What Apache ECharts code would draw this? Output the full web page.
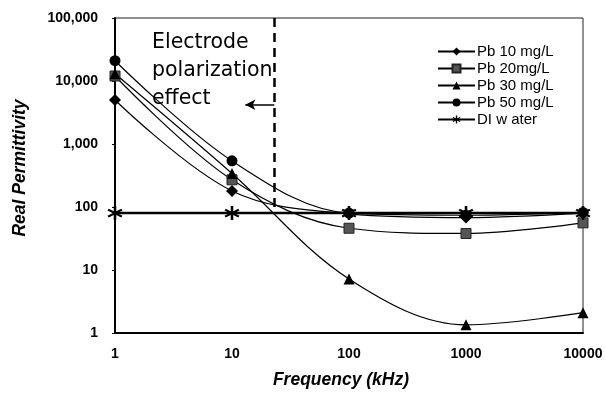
<!DOCTYPE html>
<html><head><meta charset="utf-8">
<script src="https://cdn.jsdelivr.net/npm/echarts@6/dist/echarts.min.js"></script>
<style>html,body{margin:0;padding:0;background:#fff;}#c{width:606px;height:401px;}</style>
</head><body><div id="c"></div>
<script>
const freqs = [1, 10, 100, 1000, 10000];
const pb10 = [5000, 180, 78, 68, 80];
const pb20 = [12000, 270, 46, 38, 56];
const pb30 = [13000, 340, 7.2, 1.35, 2.1];
const pb50 = [21000, 540, 80, 74, 82];
const diWater = [80, 80, 80, 80, 80];
const seriesNames = ['Pb 10 mg/L', 'Pb 20mg/L', 'Pb 30 mg/L', 'Pb 50 mg/L', 'DI w ater'];
const xTicks = ['1', '10', '100', '1000', '10000'];
const boundaryFreq = 23;
const arrowEndFreq = 13;
const arrowLevel = 4200;

const asterisk = 'path://M-1.6,-10 L1.6,-10 L1.6,10 L-1.6,10 Z M7.86,6.39 L-9.46,-3.61 L-7.86,-6.39 L9.46,3.61 Z M-9.46,3.61 L7.86,-6.39 L9.46,-3.61 L-7.86,6.39 Z';

function pts(arr){ return freqs.map((f,i)=>[f, arr[i]]); }

const chart = echarts.init(document.getElementById('c'), null, {renderer:'canvas'});
const base = {type:'line', smooth:0.35, lineStyle:{color:'#000', width:1.2}, itemStyle:{color:'#000'}, symbolSize:10, z:3};
const tickFont = {color:'#000', fontWeight:'bold', fontSize:14, fontFamily:'Liberation Sans, Arial'};
chart.setOption({
  animation:false,
  backgroundColor:'#fff',
  grid:{left:115, right:23, top:18, bottom:68, show:true, borderColor:'#222', borderWidth:1},
  legend:{
    orient:'vertical', left:432, top:39, itemWidth:37, itemHeight:10, itemGap:2,
    textStyle:{fontFamily:'Liberation Sans, Arial', fontSize:15, lineHeight:15, color:'#000', padding:[0,0,0,-3]},
    data: seriesNames
  },
  xAxis:{type:'log', logBase:10, min:1, max:10000,
    axisLine:{lineStyle:{color:'#000', width:2}},
    axisTick:{show:false},
    splitLine:{show:false},
    axisLabel:Object.assign({margin:14,
      formatter:(v)=>{const i=freqs.indexOf(v);return i>=0?xTicks[i]:String(v);}}, tickFont)
  },
  yAxis:{type:'log', logBase:10, min:1, max:100000,
    axisLine:{show:true, lineStyle:{color:'#000', width:2}},
    axisTick:{show:true, length:3, lineStyle:{color:'#000'}},
    splitLine:{show:false},
    axisLabel:Object.assign({margin:17,
      formatter:(v)=>Math.round(v).toLocaleString('en-US')}, tickFont)
  },
  graphic:[
    {type:'text', left:152, top:29, style:{text:'Electrode\npolarization\neffect', fontFamily:'DejaVu Sans', fontSize:20.5, lineHeight:28, fill:'#000'}},
    {type:'text', x:341, y:380, style:{text:'Frequency (kHz)', fontFamily:'Liberation Sans, Arial', fontWeight:'bold', fontStyle:'italic', fontSize:17.5, fill:'#000', align:'center', verticalAlign:'middle'}},
    {type:'text', x:20, y:168, rotation:Math.PI/2, style:{text:'Real Permittivity', fontFamily:'Liberation Sans, Arial', fontWeight:'bold', fontStyle:'italic', fontSize:17.5, fill:'#000', align:'center', verticalAlign:'middle'}}
  ],
  series:[
    Object.assign({}, base, {name:seriesNames[0], symbol:'diamond', symbolSize:12, data:pts(pb10)}),
    Object.assign({}, base, {name:seriesNames[1], symbol:'rect', symbolSize:10, itemStyle:{color:'#555', borderColor:'#222', borderWidth:1}, data:pts(pb20)}),
    Object.assign({}, base, {name:seriesNames[2], symbol:'triangle', symbolSize:11, data:pts(pb30)}),
    Object.assign({}, base, {name:seriesNames[3], symbol:'circle', symbolSize:11, data:pts(pb50)}),
    Object.assign({}, base, {name:seriesNames[4], smooth:false, symbol:asterisk, symbolSize:[15,14], lineStyle:{color:'#000', width:2.5}, z:4, data:pts(diWater),
      markLine:{silent:true, symbol:'none', label:{show:false}, animation:false,
        data:[
          [{coord:[boundaryFreq, 100000], lineStyle:{color:'#000', width:2.5, type:[9,6]}}, {coord:[boundaryFreq, 100]}],
          [{coord:[boundaryFreq, arrowLevel], symbol:'none', lineStyle:{color:'#000', width:1.5, type:'solid'}}, {coord:[arrowEndFreq, arrowLevel], symbol:'arrow', symbolSize:[8,10]}]
        ]}
    })
  ]
});
</script></body></html>
